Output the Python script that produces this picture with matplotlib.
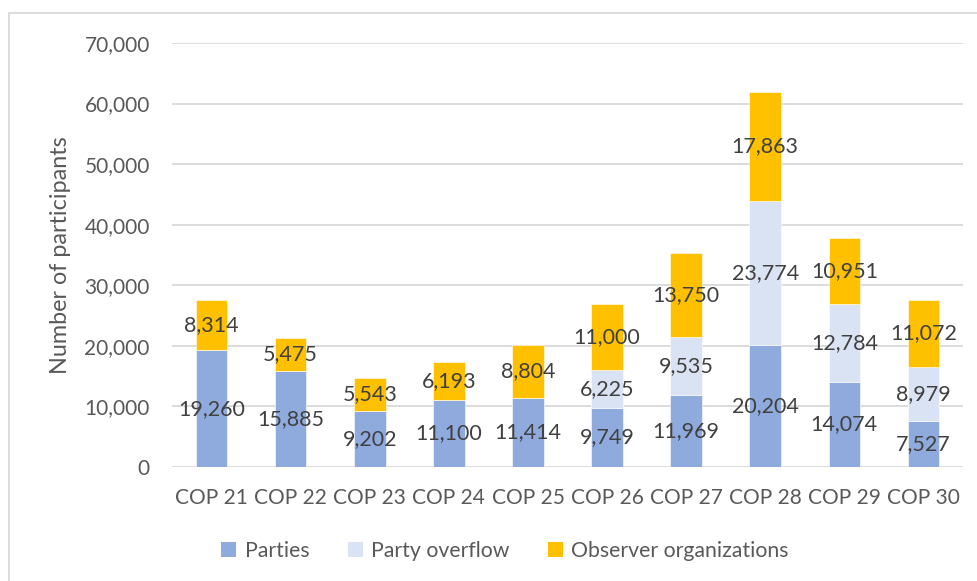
import matplotlib
matplotlib.use("Agg")
import matplotlib.pyplot as plt
from matplotlib.patches import Rectangle, Patch
from matplotlib.ticker import FuncFormatter

categories = ["COP 21", "COP 22", "COP 23", "COP 24", "COP 25",
              "COP 26", "COP 27", "COP 28", "COP 29", "COP 30"]
parties = [19260, 15885, 9202, 11100, 11414, 9749, 11969, 20204, 14074, 7527]
overflow = [0, 0, 0, 0, 0, 6225, 9535, 23774, 12784, 8979]
observers = [8314, 5475, 5543, 6193, 8804, 11000, 13750, 17863, 10951, 11072]
series_names = ["Parties", "Party overflow", "Observer organizations"]
colors = ["#8faadc", "#dae3f3", "#ffc000"]

plt.rcParams['font.family'] = ['Lato', 'DejaVu Sans']

W, H = 977, 581
fig = plt.figure(figsize=(W / 100, H / 100), dpi=100)
ax = fig.add_axes([172 / W, 1 - 467 / H, (963 - 172) / W, (467 - 43) / H])

x = range(len(categories))
bottoms = [0] * len(categories)
for vals, name, c in zip([parties, overflow, observers], series_names, colors):
    bars = ax.bar(x, vals, width=0.4, bottom=bottoms, color=c, label=name,
                  edgecolor="white", linewidth=0.4, zorder=3)
    labels = [f"{v:,}" if v > 0 else "" for v in vals]
    ax.bar_label(bars, labels=labels, label_type="center", fontsize=15.5,
                 color="#404040", zorder=4)
    bottoms = [b + v for b, v in zip(bottoms, vals)]

ax.set_ylim(0, 70000)
ax.set_xlim(-0.5, len(categories) - 0.5)
ax.set_yticks(range(0, 70001, 10000))
ax.yaxis.set_major_formatter(FuncFormatter(lambda v, p: f"{int(v):,}"))
ax.set_xticks(list(x))
ax.set_xticklabels(categories)
ax.tick_params(axis="both", length=0, labelsize=15, colors="#595959")
ax.tick_params(axis="y", pad=16)
ax.tick_params(axis="x", pad=15)
ax.grid(axis="y", color="#d9d9d9", linewidth=1.3, zorder=0)
for s in ax.spines.values():
    s.set_visible(False)
ax.set_ylabel("Number of participants", fontsize=16.8, color="#595959", labelpad=10)

handles = [Patch(facecolor=c, label=n) for c, n in zip(colors, series_names)]
fig.legend(handles=handles, loc="center", bbox_to_anchor=(505 / W, 1 - 551 / H),
           ncol=3, frameon=False, fontsize=15.3, labelcolor="#595959",
           handlelength=0.7, handleheight=0.7, handletextpad=0.4, columnspacing=1.8)

fig.patches.append(Rectangle((9 / W, -0.1), 2, 1 - 13 / H + 0.1,
                             transform=fig.transFigure, fill=False,
                             edgecolor="#d9d9d9", linewidth=1.3))

fig.savefig("out.png", dpi=100)
